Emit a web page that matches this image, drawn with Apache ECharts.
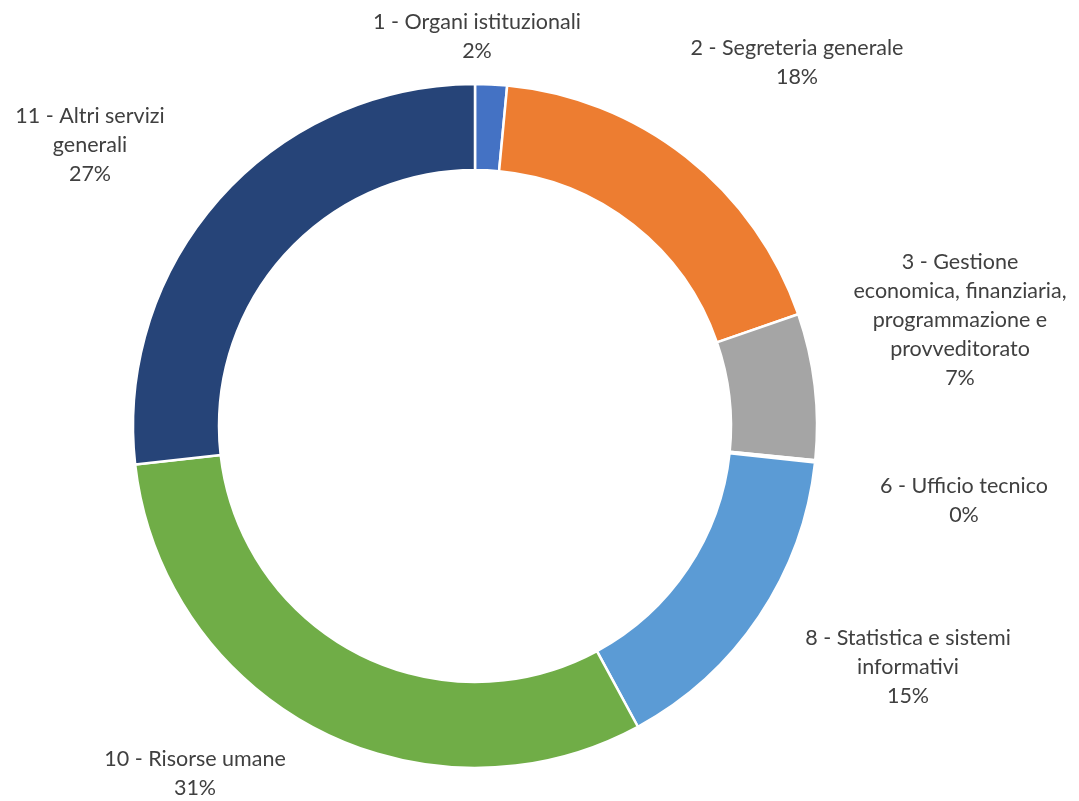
<!DOCTYPE html>
<html>
<head>
<meta charset="utf-8">
<script src="https://cdn.jsdelivr.net/npm/echarts@6/dist/echarts.min.js"></script>
<style>
  html, body { margin: 0; padding: 0; background: #fff; }
  #chart { width: 1079px; height: 801px; }
</style>
</head>
<body>
<div id="chart"></div>
<script>
// categories (line breaks as wrapped in the picture)
const categories = [
  '1 - Organi istituzionali',
  '2 - Segreteria generale',
  '3 - Gestione\neconomica, finanziaria,\nprogrammazione e\nprovveditorato',
  '6 - Ufficio tecnico',
  '8 - Statistica e sistemi\ninformativi',
  '10 - Risorse umane',
  '11 - Altri servizi\ngenerali'
];
// share of each item, in percent
const values = [1.5, 18.2, 6.9, 0.1, 15.4, 31.1, 26.8];
const colors = ['#4472C4', '#ED7D31', '#A5A5A5', '#FFC000', '#5B9BD5', '#70AD47', '#264478'];

// where each label block sits (centre x, top y)
const labelSpots = [
  [477, 8], [797, 34], [960, 248], [964, 472], [908, 624], [195, 745], [90, 102]
];

const chart = echarts.init(document.getElementById('chart'));
chart.setOption({
  animation: false,
  color: colors,
  series: [{
    type: 'pie',
    center: [475, 426],
    radius: [256, 342],
    startAngle: 90,
    clockwise: true,
    avoidLabelOverlap: false,
    itemStyle: { borderColor: '#fff', borderWidth: 2.5 },
    label: {
      show: true,
      position: 'outside',
      color: '#404040',
      fontFamily: 'Lato',
      fontSize: 21.5,
      lineHeight: 29,
      align: 'center',
      formatter: p => p.name + '\n' + Math.round(p.percent) + '%'
    },
    labelLine: { show: false },
    labelLayout: p => ({
      x: labelSpots[p.dataIndex][0],
      y: labelSpots[p.dataIndex][1],
      align: 'center',
      verticalAlign: 'top'
    }),
    emphasis: { disabled: true },
    data: categories.map((c, i) => ({ name: c, value: values[i] }))
  }]
});
</script>
</body>
</html>
